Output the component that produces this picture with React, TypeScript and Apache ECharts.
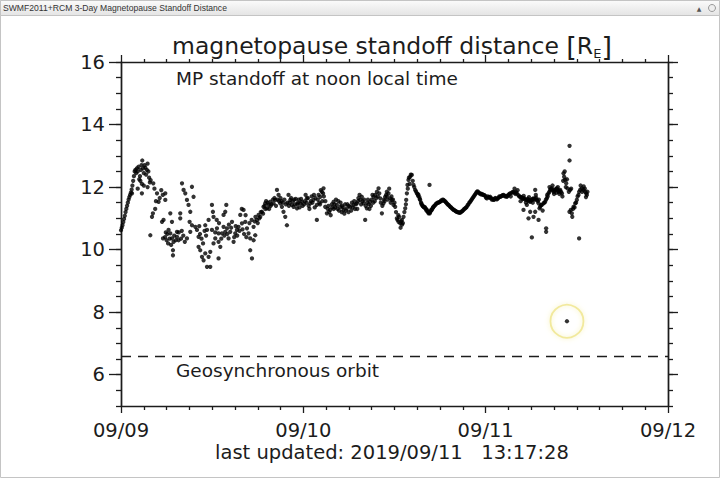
import React, { useEffect, useRef } from "react";
import * as echarts from "echarts";

// hours since 09/09 00:00 UT, standoff distance in R_E
const day1Points: [number, number][] = [
  [0.0,10.62],[0.1,10.7],[0.2,10.78],[0.3,10.88],[0.4,10.98],[0.5,11.08],[0.6,11.2],[0.7,11.3],[0.8,11.4],[0.9,11.5],
  [1.0,11.6],[1.1,11.68],[1.2,11.75],[1.3,11.82],[1.4,11.92],[1.5,12.05],[1.6,12.2],[1.7,12.35],[1.8,12.5],[1.9,12.55],
  [2.0,12.45],[2.1,12.6],[2.2,12.5],[2.3,12.65],[2.4,12.25],[2.5,12.35],[2.55,12.2],[2.6,12.55],[2.7,12.7],[2.75,12.1],
  [2.8,12.85],[2.9,12.6],[3.0,12.45],[3.1,12.7],[3.2,12.62],[3.3,12.4],[3.4,12.55],[3.5,12.75],[3.6,12.5],[3.7,12.3],
  [3.8,12.15],[3.9,12.22],[1.45,11.8],[2.75,11.8],[2.2,11.95],[3.0,12.05],[3.5,12.0],[3.86,10.46],
  [4.25,12.12],[4.2,11.16],[4.08,11.05],[4.74,11.8],[4.95,11.53],[5.83,11.8],[5.83,11.59],[5.6,10.95],[5.4,10.89],[5.53,10.36],
  [6.49,11.16],[6.71,10.89],[6.26,10.63],[6.49,10.52],[6.71,10.36],[6.92,10.25],[6.84,9.98],[6.84,9.82],[7.37,10.57],[7.37,10.41],
  [7.58,10.3],[7.8,11.16],[7.8,11.0],[8.03,12.12],[8.24,11.91],[8.46,11.8],[8.68,11.59],[8.89,11.43],[9.12,11.21],[9.03,10.89],
  [9.34,10.78],[9.12,10.57],[8.68,10.36],[9.34,12.01],[9.55,11.69],[9.78,10.73],[10.0,10.63],[10.21,10.41],[10.21,10.09],[10.43,9.98],
  [10.66,9.77],[10.87,9.66],[11.09,9.88],[11.32,9.45],[11.75,9.45],[11.53,9.77],[11.75,9.93],[12.18,10.2],[12.41,10.36],[11.97,10.63],
  [11.32,10.63],[11.09,10.78],[11.53,10.95],[11.97,11.43],[12.1,11.21],[12.18,11.05],[12.63,10.68],[12.84,10.52],[12.84,10.25],[13.07,10.09],
  [12.84,9.72],[13.29,10.52],[13.5,10.73],[13.72,10.57],[13.5,11.11],[13.72,11.21],[13.86,11.43],[13.95,10.68],[14.16,10.36],[14.38,10.57],
  [14.61,10.89],[14.82,10.25],[15.04,10.52],[15.26,10.63],[15.47,10.73],[15.7,11.11],[15.92,10.84],[16.13,11.27],[16.36,10.89],[16.58,10.68],
  [16.79,10.52],[17.01,9.98],[17.24,9.72],[17.01,10.36],[17.45,10.3],[17.67,10.46],[17.45,10.73],[17.89,10.95],[18.11,11.11],[18.33,11.05],
  [18.55,11.21],[18.76,11.37],[18.99,11.48],[19.21,11.32],[19.42,11.43],[19.64,11.53],[20.08,11.48],[20.3,11.59],[20.53,11.91],[20.74,11.75],
  [20.96,11.48],[21.18,11.37],[21.39,11.21],[21.62,11.05],[21.84,10.78],[22.05,11.75],[22.28,11.59],[22.5,11.43],[22.71,11.37],[23.16,11.32],
  [23.59,11.48],[23.82,11.53],
  [5.8,10.4],[6.0,10.3],[6.2,10.2],[6.4,10.35],[6.6,10.15],[7.0,10.45],[7.2,10.3],[7.6,10.55],[7.9,10.35],[8.2,10.45],
  [8.4,10.25],[5.9,10.55],[6.1,10.5],[8.0,10.6],[10.4,10.5],[10.6,10.35],[10.8,10.2],[11.0,10.6],[11.2,10.45],[10.3,10.75],
  [12.4,10.55],[12.9,10.85],[13.2,10.35],[13.6,10.45],[12.6,10.95],[14.0,10.5],[14.5,10.7],[14.9,10.4],[15.3,10.45],[15.6,10.6],
  [16.0,10.65],[16.2,10.5],[16.5,10.4],[14.2,10.8],[15.1,10.75],[15.9,11.3],[16.4,11.1],[16.9,10.85],[17.2,10.95],[17.7,11.05],
  [17.6,10.9],[18.0,10.85],[18.4,11.2],[18.7,11.15],[19.0,11.3],[19.3,11.5],[19.5,11.3],[19.8,11.45],[20.2,11.65],[20.4,11.4],
  [20.6,11.6],[21.0,11.65],[21.3,11.5],[21.5,11.6],[21.9,11.5],[22.1,11.4],[22.4,11.65],[22.6,11.55],[22.9,11.45],[23.0,11.62],
  [23.3,11.5],[23.5,11.35],[23.7,11.62],[4.5,11.3],[4.6,11.55],[5.1,11.65],[5.3,11.9],[5.5,11.75],[4.4,11.95],
  [18.2,11.0],[18.9,11.4],[19.1,11.55],[19.7,11.4],[20.0,11.6],[20.8,11.55],[21.1,11.55],[21.7,11.45],[22.2,11.5],[22.8,11.6],
  [23.2,11.45],[23.4,11.6],[23.9,11.4]
];

const day2Points: [number, number][] = [
  [24.2,11.55],[24.47,11.64],[24.7,11.4],[24.91,11.48],[25.1,11.7],[25.34,11.59],[25.5,11.35],[25.78,11.43],[26.0,11.75],[26.22,11.69],
  [26.44,11.85],[26.66,11.96],[26.5,11.55],[25.78,10.95],[26.88,11.37],[27.1,11.16],[27.3,11.4],[27.54,11.27],[27.75,11.45],[27.98,11.53],
  [28.2,11.35],[28.41,11.43],[28.6,11.55],[28.85,11.37],[29.05,11.2],[29.29,11.27],[29.5,11.45],[29.73,11.32],[29.95,11.2],[30.17,11.37],
  [30.4,11.5],[30.61,11.43],[30.8,11.3],[31.05,11.48],[31.25,11.65],[31.48,11.59],[31.7,11.69],[31.92,11.48],[32.14,10.95],[32.36,11.32],
  [32.6,11.45],[32.8,11.53],[33.0,11.6],[33.24,11.69],[33.45,11.75],[33.68,11.85],[33.9,11.96],[34.12,11.64],[34.34,11.16],[34.55,11.48],
  [34.77,11.69],[34.99,11.85],[35.21,11.8],[35.43,11.64],[35.65,11.59],[35.87,11.43],[36.09,11.37],[36.31,11.0],[36.53,10.89],[36.75,10.84],
  [36.97,10.95],[37.19,11.05],[37.41,11.32],[37.54,11.59],[37.63,11.8],[37.71,12.07],[37.84,12.23],[38.06,12.33],[38.28,12.39],[38.5,12.07],
  [38.72,11.91],[38.94,11.8],[39.16,11.75],[39.38,11.59],[39.6,11.43],[39.82,11.37],[40.04,11.32],[40.26,11.27],[40.48,11.16],[40.7,11.21],
  [40.91,11.27],[41.13,11.37],[41.57,11.48],[42.01,11.53],[42.45,11.59],[42.89,11.48],[43.33,11.37],[43.77,11.27],[44.2,11.21],[44.64,11.18],
  [45.08,11.27],[45.52,11.37],[45.96,11.53],[46.4,11.69],[46.84,11.85],[47.27,11.8],[47.71,11.75],[40.61,12.07],
  [24.3,11.75],[24.8,11.3],[25.2,11.5],[25.6,11.65],[26.1,11.5],[26.3,11.9],[26.7,11.7],[27.2,11.3],[27.6,11.1],[28.0,11.3],
  [28.3,11.6],[28.7,11.25],[29.1,11.4],[29.4,11.15],[29.8,11.45],[30.3,11.25],[30.7,11.55],[31.1,11.3],[31.4,11.75],[31.8,11.55],
  [32.2,11.4],[32.5,11.6],[32.9,11.4],[33.1,11.75],[33.4,11.55],[33.8,11.7],[34.0,11.8],[34.4,11.4],[34.7,11.55],[35.0,11.7],
  [35.3,11.95],[35.5,11.5],[35.8,11.6],[36.2,11.2],[36.4,10.95],[36.6,11.05],[36.8,10.7],[37.0,10.8],[37.3,11.2],[37.5,11.45],
  [37.75,11.95],[37.9,12.3],[38.0,12.1],[38.15,12.4],[38.4,12.2],[38.6,12.0],
  [39.05,11.78],[39.27,11.68],[39.49,11.5],[39.71,11.4],[39.93,11.35],[40.15,11.3],[40.37,11.22],[40.59,11.18],[40.8,11.24],[41.02,11.32],
  [41.35,11.42],[41.79,11.5],[42.23,11.56],[42.67,11.54],[43.11,11.43],[43.55,11.32],[43.99,11.24],[44.42,11.19],[44.86,11.22],[45.3,11.32],
  [45.74,11.45],[46.18,11.61],[46.62,11.77],[47.05,11.83],[47.49,11.78],[47.93,11.72],
  [38.83,11.86],[39.1,11.72],[39.32,11.62],[39.55,11.47],[39.77,11.38],[39.99,11.36],[40.2,11.25],[40.42,11.2],[40.65,11.16],[40.86,11.28],
  [41.08,11.35],[41.24,11.4],[41.46,11.46],[41.68,11.5],[41.9,11.52],[42.12,11.57],[42.34,11.6],[42.56,11.56],[42.78,11.51],[43.0,11.45],
  [43.22,11.4],[43.44,11.35],[43.66,11.3],[43.88,11.26],[44.1,11.22],[44.31,11.2],[44.53,11.18],[44.75,11.2],[44.97,11.24],[45.19,11.3],
  [45.41,11.34],[45.63,11.42],[45.85,11.5],[46.07,11.57],[46.29,11.65],[46.51,11.73],[46.73,11.81],[46.95,11.86],[47.16,11.8],[47.38,11.77],
  [47.6,11.76],[47.82,11.74],
  [24.1,11.45],[24.4,11.5],[24.6,11.65],[25.0,11.55],[25.4,11.75],[25.9,11.6],[26.2,11.45],[26.6,11.8],[26.9,11.55],[27.4,11.2],
  [27.8,11.35],[28.1,11.45],[28.5,11.3],[28.9,11.5],[29.2,11.35],[29.6,11.25],[30.0,11.4],[30.5,11.35],[30.9,11.45],[31.2,11.55],
  [31.6,11.45],[32.0,11.6],[32.4,11.5],[32.7,11.3],[33.2,11.5],[33.6,11.65],[34.2,11.5],[34.6,11.6],[34.9,11.75],[35.1,11.6],
  [35.6,11.7],[36.0,11.5],[36.5,11.1],[36.9,10.9],[37.1,10.85]
];

const day3Points: [number, number][] = [
  [48.16,11.64],[48.4,11.68],[48.59,11.69],[48.8,11.6],[49.03,11.59],[49.25,11.65],[49.47,11.61],[49.7,11.66],[49.91,11.69],[50.13,11.72],
  [50.35,11.75],[50.57,11.7],[50.79,11.69],[51.0,11.75],[51.23,11.8],[51.45,11.82],[51.67,11.85],[51.9,11.78],[52.1,11.8],[52.3,11.74],
  [52.54,11.69],[52.76,11.66],[52.98,11.64],[53.2,11.6],[53.42,11.59],[53.64,11.55],[53.86,11.53],[54.08,11.6],[54.3,11.64],[54.52,11.62],
  [54.74,11.59],[54.96,11.48],[55.17,11.37],[55.39,11.43],[55.61,11.48],[55.83,11.53],[56.05,11.64],[56.27,11.8],[56.49,11.91],[56.71,11.96],
  [56.93,11.85],[57.15,11.91],[57.37,11.96],[57.59,11.85],[57.81,11.91],[58.03,11.8],[58.25,12.44],[58.33,12.33],[58.46,12.23],[58.6,12.12],
  [58.77,11.96],[58.95,11.85],[59.12,11.91],[59.03,11.21],[59.21,11.27],[59.34,11.16],[59.56,11.37],[59.78,11.48],[60.0,11.59],[60.22,11.75],
  [60.44,11.91],[60.66,11.96],[60.88,11.91],[61.1,11.85],[61.23,11.8],[61.32,11.75],
  [59.04,13.32],[59.04,12.85],[54.08,10.39],[55.96,10.68],[55.96,10.57],[60.3,10.36],[52.98,11.27],[53.64,11.0],[54.3,11.05],[54.96,10.95],
  [53.42,11.43],[54.52,11.21],[53.86,11.21],[55.09,11.32],[54.52,11.91],
  [51.3,11.7],[51.8,11.95],[52.2,11.9],[52.6,11.55],[53.0,11.72],[53.3,11.5],[53.7,11.68],[54.2,11.5],[54.6,11.75],[55.0,11.6],
  [55.5,11.25],[56.1,11.75],[56.4,12.0],[56.8,12.05],[57.0,11.78],[57.3,11.82],[57.5,12.0],[57.7,11.78],[58.1,11.7],[58.2,12.2],
  [58.4,12.5],[58.55,12.0],[58.7,12.25],[59.25,11.95],[59.4,11.05],[59.5,11.3],[59.7,11.35],[59.9,11.5],[60.1,11.7],[60.3,11.85],
  [60.5,12.05],[60.7,11.85],[60.9,12.02],[61.05,11.95],[61.2,11.68],[61.4,11.85],
  [48.04,11.66],[48.27,11.7],[48.48,11.66],[48.7,11.65],[48.92,11.62],[49.14,11.6],[49.36,11.64],[49.58,11.63],[49.8,11.7],[50.02,11.7],
  [50.24,11.74],[50.46,11.72],[50.68,11.72],[50.9,11.72],[51.12,11.78],[51.56,11.84],[51.78,11.82],[52.0,11.84],[52.42,11.7],[52.65,11.68],
  [52.87,11.62],[53.1,11.64],[53.53,11.62],[53.75,11.58],[53.97,11.57],[54.19,11.62],[54.41,11.6],[54.63,11.66],[54.85,11.55],[55.28,11.42],
  [55.72,11.5],[55.94,11.6],[56.16,11.7],[56.38,11.85],[56.6,11.94],[56.82,11.9],[57.04,11.88],[57.26,11.94],[57.48,11.9],[57.7,11.88],
  [57.92,11.85]
];

const circledPoint: [number, number] = [58.7, 7.71];
const geoOrbit = 6.6;
const xTickLabels = ["09/09", "09/10", "09/11", "09/12"];
const yMajorTicks = [6, 8, 10, 12, 14, 16];

const FONT = "DejaVu Sans";
const INK = "#1c1c1c";

export default function App() {
  const ref = useRef<HTMLDivElement>(null);
  useEffect(() => {
    document.body.style.margin = "0";
    if (!ref.current) return;
    const chart = echarts.init(ref.current, undefined, { renderer: "svg" });
    const axisLine = { show: true, lineStyle: { color: INK, width: 1.4 } };
    const xBase = { type: "value" as const, min: 0, max: 72, interval: 24, splitLine: { show: false }, axisLine };
    const yBase = { type: "value" as const, min: 5, max: 16, splitLine: { show: false }, axisLine };
    chart.setOption({
      animation: false,
      backgroundColor: "#fff",
      textStyle: { fontFamily: FONT },
      grid: { left: 121, right: 52, top: 62, bottom: 72 },
      xAxis: [
        {
          ...xBase, position: "bottom",
          axisTick: { length: 7, lineStyle: { color: INK, width: 1.3 } },
          minorTick: { show: true, splitNumber: 8, length: 4, lineStyle: { color: INK, width: 1.3 } },
          axisLabel: { fontSize: 19.5, color: INK, margin: 14, fontFamily: FONT, formatter: (v: number) => xTickLabels[Math.round(v / 24)] ?? "" },
        },
        {
          ...xBase, position: "top",
          axisTick: { length: 7, lineStyle: { color: INK, width: 1.3 } },
          minorTick: { show: true, splitNumber: 8, length: 3, lineStyle: { color: INK, width: 1.3 } },
          axisLabel: { show: false },
        },
      ],
      yAxis: [
        {
          ...yBase, position: "left", interval: 0.5,
          axisTick: { length: 5, lineStyle: { color: INK, width: 1.3 } },
          axisLabel: { show: false },
        },
        {
          ...yBase, position: "left",
          axisTick: { length: 12, customValues: yMajorTicks, lineStyle: { color: INK, width: 1.3 } },
          axisLabel: { customValues: yMajorTicks, fontSize: 19.5, color: INK, margin: 16, fontFamily: FONT },
        },
        {
          ...yBase, position: "right", interval: 0.5,
          axisTick: { length: 5, lineStyle: { color: INK, width: 1.3 } },
          axisLabel: { show: false },
        },
        {
          ...yBase, position: "right",
          axisTick: { length: 10, customValues: yMajorTicks, lineStyle: { color: INK, width: 1.3 } },
          axisLabel: { show: false },
        },
      ],
      series: [
        {
          type: "scatter",
          xAxisIndex: 0, yAxisIndex: 0,
          data: [...day1Points, ...day2Points, ...day3Points, circledPoint],
          symbol: "circle",
          symbolSize: 4.3,
          itemStyle: { color: "#000" },
          silent: true,
          markLine: {
            silent: true,
            symbol: "none",
            label: { show: false },
            lineStyle: { color: INK, type: [10, 7], width: 1.4 },
            data: [{ yAxis: geoOrbit }],
          },
        },
        {
          type: "scatter",
          xAxisIndex: 0, yAxisIndex: 0,
          data: [circledPoint],
          symbol: "circle",
          symbolSize: 33,
          silent: true,
          itemStyle: { color: "rgba(0,0,0,0)", borderColor: "#efe58a", borderWidth: 1.8, shadowBlur: 5, shadowColor: "rgba(240,230,120,0.7)" },
        },
      ],
      graphic: [
        { type: "rect", silent: true, z: -10, shape: { x: 0.5, y: 0.5, width: 719, height: 477 }, style: { fill: "#fff", stroke: "#c4c4c4", lineWidth: 1 } },
        {
          type: "rect", silent: true, z: -9, shape: { x: 0.5, y: 0.5, width: 719, height: 15 },
          style: {
            fill: new echarts.graphic.LinearGradient(0, 0, 0, 1, [
              { offset: 0, color: "#fbfbfb" }, { offset: 1, color: "#e4e4e4" },
            ]),
            stroke: "#c4c4c4", lineWidth: 1,
          },
        },
        { type: "text", silent: true, style: { text: "SWMF2011+RCM 3-Day Magnetopause Standoff Distance", x: 3, y: 8, fontFamily: "Liberation Sans", fontSize: 8.6, fill: "#333", textVerticalAlign: "middle" } },
        { type: "text", silent: true, style: { text: "▲", x: 699, y: 8, fontFamily: "DejaVu Sans", fontSize: 6, fill: "#555", textAlign: "center", textVerticalAlign: "middle" } },
        { type: "circle", silent: true, shape: { cx: 712, cy: 8, r: 3.5 }, style: { fill: "#eee", stroke: "#999", lineWidth: 1 } },
        {
          type: "text", silent: true,
          style: {
            text: "{t|magnetopause standoff distance }{b|[}{t|R}{s|E}{b|]}",
            x: 392, y: 46, textAlign: "center", textVerticalAlign: "middle",
            rich: {
              t: { fontFamily: FONT, fontSize: 23.5, fill: INK, lineHeight: 28 },
              b: { fontFamily: FONT, fontSize: 27, fill: INK, lineHeight: 28 },
              s: { fontFamily: FONT, fontSize: 13, fill: INK, lineHeight: 28, verticalAlign: "bottom" },
            },
          },
        },
        { type: "text", silent: true, style: { text: "MP standoff at noon local time", x: 176, y: 78, fontFamily: FONT, fontSize: 18.5, fill: INK, textVerticalAlign: "middle" } },
        { type: "text", silent: true, style: { text: "Geosynchronous orbit", x: 176, y: 370, fontFamily: FONT, fontSize: 18.5, fill: INK, textVerticalAlign: "middle" } },
        { type: "text", silent: true, style: { text: "last updated: 2019/09/11   13:17:28", x: 392, y: 452, fontFamily: FONT, fontSize: 19.5, fill: INK, textAlign: "center", textVerticalAlign: "middle" } },
      ],
    });
    return () => chart.dispose();
  }, []);
  return <div ref={ref} style={{ width: 720, height: 478 }} />;
}
